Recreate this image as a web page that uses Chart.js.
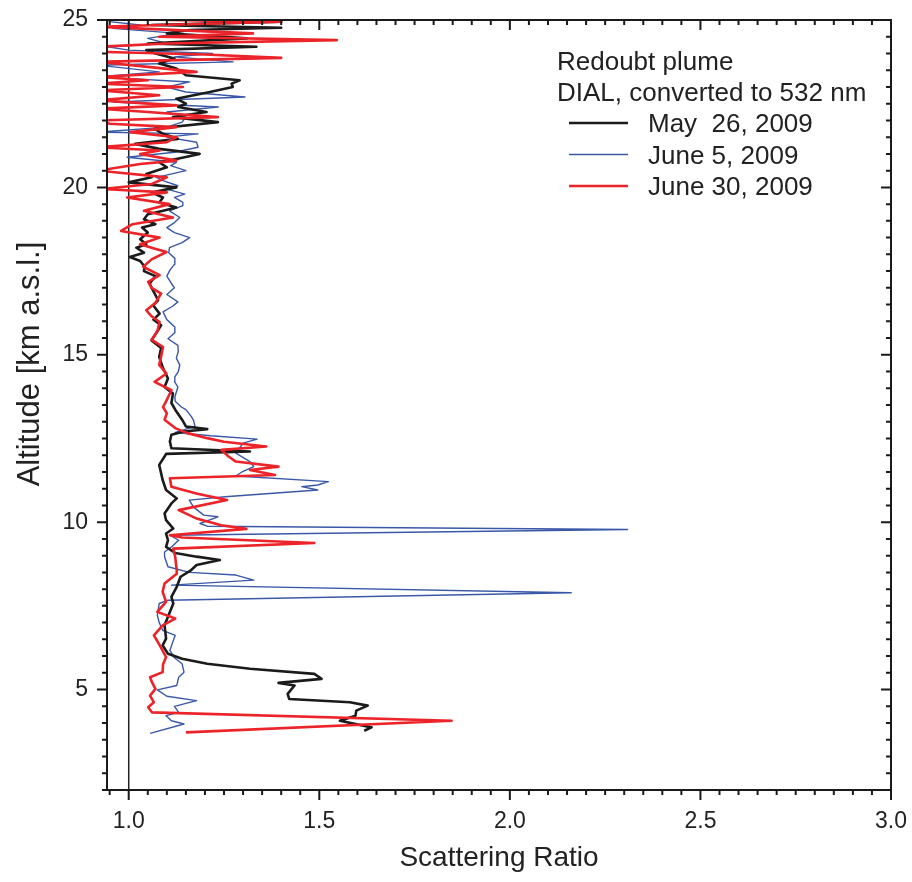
<!DOCTYPE html>
<html>
<head>
<meta charset="utf-8">
<title>Redoubt plume - scattering ratio</title>
<script src="https://cdn.jsdelivr.net/npm/chart.js@4.4.1/dist/chart.umd.min.js"></script>
<style>
  body { margin: 0; background: #fff; }
  #wrap { width: 912px; height: 882px; }
</style>
</head>
<body>
<div id="wrap"><canvas id="chart" width="912" height="882"></canvas></div>
<script>
// profiles, bottom to top: altitude [km] / scattering ratio
const mayAlt = [3.77, 3.87, 4.07, 4.22, 4.37, 4.52, 4.62, 4.72, 4.87, 5.12, 5.2, 5.32, 5.47, 5.62, 5.77, 5.92, 6.07, 6.32, 6.52, 6.92,
  7.32, 7.57, 7.77, 8.07, 8.37, 8.57, 8.72, 8.87, 8.97, 9.08, 9.26, 9.46, 9.66, 9.81, 10.06, 10.26, 10.56, 10.71, 10.96, 11.26,
  11.51, 11.71, 11.96, 12.04, 12.11, 12.21, 12.41, 12.61, 12.71, 12.78, 12.86, 13.06, 13.36, 13.56, 13.84, 14.04, 14.29, 14.6, 14.93, 15.2,
  15.43, 15.7, 15.88, 16.05, 16.23, 16.48, 16.63, 16.83, 17.0, 17.13, 17.35, 17.5, 17.63, 17.8, 17.92, 18.05, 18.2, 18.3, 18.45, 18.65,
  18.8, 18.9, 19.05, 19.2, 19.3, 19.4, 19.55, 19.7, 19.85, 20.0, 20.15, 20.3, 20.4, 20.6, 20.75, 20.85, 21.0, 21.15, 21.3, 21.45,
  21.6, 21.75, 21.95, 22.1, 22.25, 22.4, 22.5, 22.65, 22.85, 23.0, 23.1, 23.2, 23.35, 23.55, 23.7, 23.85, 24.0, 24.1, 24.2, 24.3,
  24.45, 24.6, 24.7, 24.77, 24.85, 24.95, 25.0];
const mayRatio = [1.618, 1.637, 1.554, 1.595, 1.597, 1.627, 1.58, 1.421, 1.417, 1.435, 1.393, 1.506, 1.487, 1.318, 1.206, 1.14, 1.103, 1.089, 1.098, 1.094,
  1.108, 1.117, 1.112, 1.126, 1.136, 1.164, 1.178, 1.239, 1.178, 1.122, 1.098, 1.103, 1.098, 1.117, 1.098, 1.094, 1.112, 1.126, 1.098, 1.089,
  1.084, 1.08, 1.094, 1.098, 1.318, 1.112, 1.108, 1.112, 1.145, 1.206, 1.15, 1.14, 1.122, 1.112, 1.116, 1.094, 1.103, 1.09, 1.08, 1.085,
  1.06, 1.075, 1.085, 1.065, 1.081, 1.064, 1.077, 1.068, 1.06, 1.055, 1.07, 1.04, 1.042, 1.03, 1.003, 1.04, 1.02, 1.046, 1.03, 1.05,
  1.035, 1.07, 1.04, 1.05, 1.09, 1.125, 1.08, 1.09, 1.06, 1.125, 1.0, 1.06, 1.046, 1.1, 1.08, 1.125, 1.186, 1.08, 1.017, 1.129,
  1.09, 1.068, 1.234, 1.116, 1.204, 1.13, 1.15, 1.125, 1.213, 1.273, 1.27, 1.291, 1.15, 1.125, 1.08, 1.12, 1.07, 1.046, 1.335, 1.05,
  1.31, 1.1, 1.16, 1.4, 1.06, 1.4, 1.2];

const june5Alt = [3.69, 3.97, 4.07, 4.22, 4.32, 4.5, 4.67, 4.8, 4.99, 5.12, 5.37, 5.52, 5.77, 5.95, 6.17, 6.4, 6.62, 6.77, 7.0, 7.22,
  7.57, 7.67, 7.89, 8.12, 8.27, 8.42, 8.5, 8.67, 8.97, 9.11, 9.26, 9.46, 9.61, 9.78, 9.88, 9.96, 10.16, 10.21, 10.45, 10.66,
  10.76, 10.96, 11.06, 11.11, 11.21, 11.38, 11.52, 11.66, 11.81, 12.06, 12.2, 12.36, 12.48, 12.58, 12.68, 12.86, 13.04, 13.16, 13.36, 13.44,
  13.61, 13.74, 14.04, 14.2, 14.34, 14.5, 14.69, 14.9, 15.1, 15.28, 15.48, 15.65, 15.83, 16.05, 16.28, 16.45, 16.58, 16.8, 17.0, 17.13,
  17.35, 17.53, 17.7, 17.88, 18.05, 18.2, 18.35, 18.5, 18.65, 18.8, 18.95, 19.1, 19.3, 19.45, 19.55, 19.7, 19.8, 19.95, 20.05, 20.2,
  20.3, 20.5, 20.65, 20.75, 20.9, 21.05, 21.2, 21.35, 21.5, 21.6, 21.65, 21.8, 21.95, 22.1, 22.25, 22.4, 22.55, 22.7, 22.85, 23.0,
  23.15, 23.3, 23.45, 23.65, 23.75, 23.9, 24.0, 24.1, 24.2, 24.3, 24.45, 24.6, 24.75, 24.85, 24.95];
const june5Ratio = [1.056, 1.145, 1.112, 1.098, 1.131, 1.12, 1.178, 1.1, 1.075, 1.126, 1.131, 1.145, 1.14, 1.12, 1.108, 1.115, 1.122, 1.089, 1.08, 1.075,
  1.08, 1.103, 2.161, 1.112, 1.328, 1.281, 1.159, 1.103, 1.094, 1.094, 1.112, 1.131, 1.108, 2.309, 1.206, 1.187, 1.234, 1.197, 1.17, 1.159,
  1.253, 1.496, 1.454, 1.496, 1.524, 1.281, 1.3, 1.328, 1.318, 1.281, 1.29, 1.3, 1.337, 1.215, 1.122, 1.174, 1.17, 1.164, 1.15, 1.138,
  1.122, 1.121, 1.129, 1.12, 1.121, 1.13, 1.134, 1.125, 1.13, 1.129, 1.103, 1.12, 1.121, 1.1, 1.09, 1.115, 1.129, 1.1, 1.12, 1.112,
  1.1, 1.108, 1.12, 1.121, 1.105, 1.107, 1.14, 1.16, 1.12, 1.1, 1.12, 1.134, 1.107, 1.14, 1.142, 1.12, 1.147, 1.1, 1.129, 1.09,
  1.073, 1.15, 1.11, 1.125, 0.996, 1.12, 1.182, 1.178, 1.1, 1.182, 0.92, 1.1, 1.14, 1.15, 1.1, 1.235, 0.96, 1.305, 1.15, 1.1,
  1.16, 0.92, 1.08, 0.92, 1.274, 1.12, 1.22, 1.0, 0.944, 1.099, 1.05, 1.13, 0.958, 1.03, 0.95];

const june30Alt = [3.72, 4.07, 4.32, 4.47, 4.62, 4.82, 5.02, 5.22, 5.37, 5.52, 5.75, 5.97, 6.27, 6.45, 6.62, 6.92, 7.12, 7.32, 7.62, 7.92,
  8.17, 8.46, 8.57, 8.96, 9.21, 9.38, 9.54, 9.61, 9.8, 9.91, 10.1, 10.36, 10.66, 10.85, 11.06, 11.31, 11.41, 11.56, 11.66, 11.81,
  11.96, 12.16, 12.26, 12.4, 12.51, 12.66, 12.81, 13.06, 13.25, 13.44, 13.61, 13.94, 14.19, 14.44, 14.7, 14.95, 15.23, 15.45, 15.7, 15.98,
  16.15, 16.33, 16.55, 16.83, 17.0, 17.18, 17.38, 17.63, 17.85, 18.07, 18.2, 18.3, 18.5, 18.7, 18.9, 19.1, 19.3, 19.5, 19.7, 19.85,
  19.95, 20.1, 20.3, 20.5, 20.7, 20.8, 21.0, 21.1, 21.2, 21.35, 21.5, 21.65, 21.8, 21.9, 22.0, 22.1, 22.25, 22.35, 22.45, 22.6,
  22.75, 22.9, 23.0, 23.1, 23.2, 23.3, 23.45, 23.6, 23.75, 23.87, 23.97, 24.05, 24.2, 24.3, 24.4, 24.5, 24.6, 24.8, 24.95, 25.0];
const june30Ratio = [1.15, 1.847, 1.061, 1.051, 1.066, 1.056, 1.07, 1.061, 1.056, 1.089, 1.09, 1.098, 1.084, 1.075, 1.066, 1.089, 1.122, 1.075, 1.098, 1.089,
  1.094, 1.126, 1.126, 1.122, 1.117, 1.487, 1.14, 1.108, 1.309, 1.243, 1.18, 1.131, 1.258, 1.18, 1.112, 1.108, 1.384, 1.318, 1.393, 1.281,
  1.262, 1.243, 1.361, 1.25, 1.206, 1.154, 1.122, 1.094, 1.1, 1.09, 1.098, 1.112, 1.068, 1.099, 1.08, 1.085, 1.09, 1.06, 1.075, 1.081,
  1.06, 1.046, 1.07, 1.085, 1.06, 1.051, 1.081, 1.038, 1.06, 1.099, 1.06, 1.03, 1.081, 0.98, 1.01, 1.116, 1.04, 1.107, 0.996, 1.1,
  0.93, 1.06, 1.1, 0.92, 1.03, 1.125, 1.03, 1.081, 0.92, 1.1, 1.125, 1.004, 1.125, 0.95, 0.92, 1.234, 1.05, 0.92, 1.125, 0.92,
  1.08, 0.92, 1.142, 0.92, 1.05, 0.92, 1.178, 1.05, 0.92, 1.4, 1.2, 0.92, 0.92, 1.1, 1.546, 1.08, 1.326, 0.92, 1.4, 1.1];

const xTicks = [1.0, 1.5, 2.0, 2.5, 3.0];
const yTicks = [5, 10, 15, 20, 25];
const legendTitle = ["Redoubt plume", "DIAL, converted to 532 nm"];
const seriesLabels = ["May  26, 2009", "June 5, 2009", "June 30, 2009"];

const FONT = "'Liberation Sans', Arial, sans-serif";

function toPoints(alts, ratios) {
  return alts.map((a, i) => ({ x: ratios[i], y: a }));
}

// no extra room for tick labels: keep the plot box where the layout puts it
function noPadding(axis) {
  axis.paddingLeft = 0;
  axis.paddingRight = 0;
  axis.paddingTop = 0;
  axis.paddingBottom = 0;
}

// axes frame, Origin-style minor ticks, reference line, legend and titles
const frame = {
  id: "frame",
  beforeDatasetsDraw(chart) {
    const { ctx, chartArea, scales } = chart;
    const x1 = scales.x.getPixelForValue(1.0);
    ctx.save();
    ctx.strokeStyle = "#222";
    ctx.lineWidth = 1.5;
    ctx.beginPath();
    ctx.moveTo(x1, chartArea.top);
    ctx.lineTo(x1, chartArea.bottom);
    ctx.stroke();
    ctx.restore();
  },
  afterDraw(chart) {
    const { ctx, chartArea: a, scales } = chart;
    ctx.save();
    ctx.strokeStyle = "#1a1a1a";
    ctx.lineWidth = 2;
    ctx.strokeRect(a.left, a.top, a.right - a.left, a.bottom - a.top);

    ctx.beginPath();
    const xs = scales.x;
    for (let i = Math.ceil(xs.min / 0.05 - 1e-6); i * 0.05 <= xs.max + 1e-6; i++) {
      const px = xs.getPixelForValue(i * 0.05);
      const len = i % 10 === 0 ? 10 : 5;
      ctx.moveTo(px, a.bottom);
      ctx.lineTo(px, a.bottom + len);
      ctx.moveTo(px, a.top);
      ctx.lineTo(px, a.top + len);
    }
    const ys = scales.y;
    for (let i = Math.ceil(ys.min / 0.5 - 1e-6); i * 0.5 <= ys.max + 1e-6; i++) {
      const py = ys.getPixelForValue(i * 0.5);
      const len = i % 10 === 0 ? 10 : 5;
      ctx.moveTo(a.left, py);
      ctx.lineTo(a.left - len, py);
      ctx.moveTo(a.right, py);
      ctx.lineTo(a.right - len, py);
    }
    ctx.stroke();

    // legend
    ctx.fillStyle = "#222";
    ctx.font = "26px " + FONT;
    ctx.textBaseline = "alphabetic";
    ctx.textAlign = "left";
    legendTitle.forEach((t, i) => ctx.fillText(t, 557, 70 + i * 30.5));
    chart.data.datasets.forEach((ds, i) => {
      const y = 123 + i * 31.5;
      ctx.strokeStyle = ds.borderColor;
      ctx.lineWidth = ds.borderWidth;
      ctx.beginPath();
      ctx.moveTo(569, y);
      ctx.lineTo(628, y);
      ctx.stroke();
      ctx.fillText(ds.label, 648, y + 9);
    });

    // axis titles
    ctx.textAlign = "center";
    ctx.textBaseline = "middle";
    ctx.font = "28px " + FONT;
    ctx.fillText("Scattering Ratio", 499, 858);
    ctx.font = "31px " + FONT;
    ctx.translate(30, 364);
    ctx.rotate(-Math.PI / 2);
    ctx.fillText("Altitude [km a.s.l.]", 0, 0);
    ctx.restore();
  }
};

new Chart(document.getElementById("chart"), {
  type: "scatter",
  data: {
    datasets: [
      {
        label: seriesLabels[0],
        data: toPoints(mayAlt, mayRatio),
        borderColor: "#1b1b1b",
        borderWidth: 2.6,
        order: 1,
      },
      {
        label: seriesLabels[1],
        data: toPoints(june5Alt, june5Ratio),
        borderColor: "#3a58a8",
        borderWidth: 1.4,
        order: 2,
      },
      {
        label: seriesLabels[2],
        data: toPoints(june30Alt, june30Ratio),
        borderColor: "#ec2328",
        borderWidth: 2.6,
        order: 0,
      },
    ],
  },
  options: {
    responsive: false,
    animation: false,
    devicePixelRatio: 1,
    showLine: true,
    clip: 0,
    elements: {
      point: { radius: 0, hoverRadius: 0 },
      line: { tension: 0, fill: false, borderJoinStyle: "round" },
    },
    layout: { padding: { left: 0, right: 21, top: 20, bottom: 0 } },
    plugins: {
      legend: { display: false },
      tooltip: { enabled: false },
    },
    scales: {
      x: {
        type: "linear",
        min: 0.943,
        max: 3.0,
        afterFit: (axis) => { axis.height = 92; noPadding(axis); },
        afterBuildTicks: (axis) => { axis.ticks = xTicks.map((v) => ({ value: v })); },
        grid: { display: false, drawTicks: false },
        border: { display: false },
        ticks: {
          padding: 18,
          color: "#222",
          font: { family: FONT, size: 23 },
          callback: (v) => Number(v).toFixed(1),
        },
      },
      y: {
        type: "linear",
        min: 2,
        max: 25,
        afterFit: (axis) => { axis.width = 107; noPadding(axis); },
        afterBuildTicks: (axis) => { axis.ticks = yTicks.map((v) => ({ value: v })); },
        grid: { display: false, drawTicks: false },
        border: { display: false },
        ticks: {
          padding: 19,
          color: "#222",
          font: { family: FONT, size: 23 },
        },
      },
    },
  },
  plugins: [frame],
});
</script>
</body>
</html>
